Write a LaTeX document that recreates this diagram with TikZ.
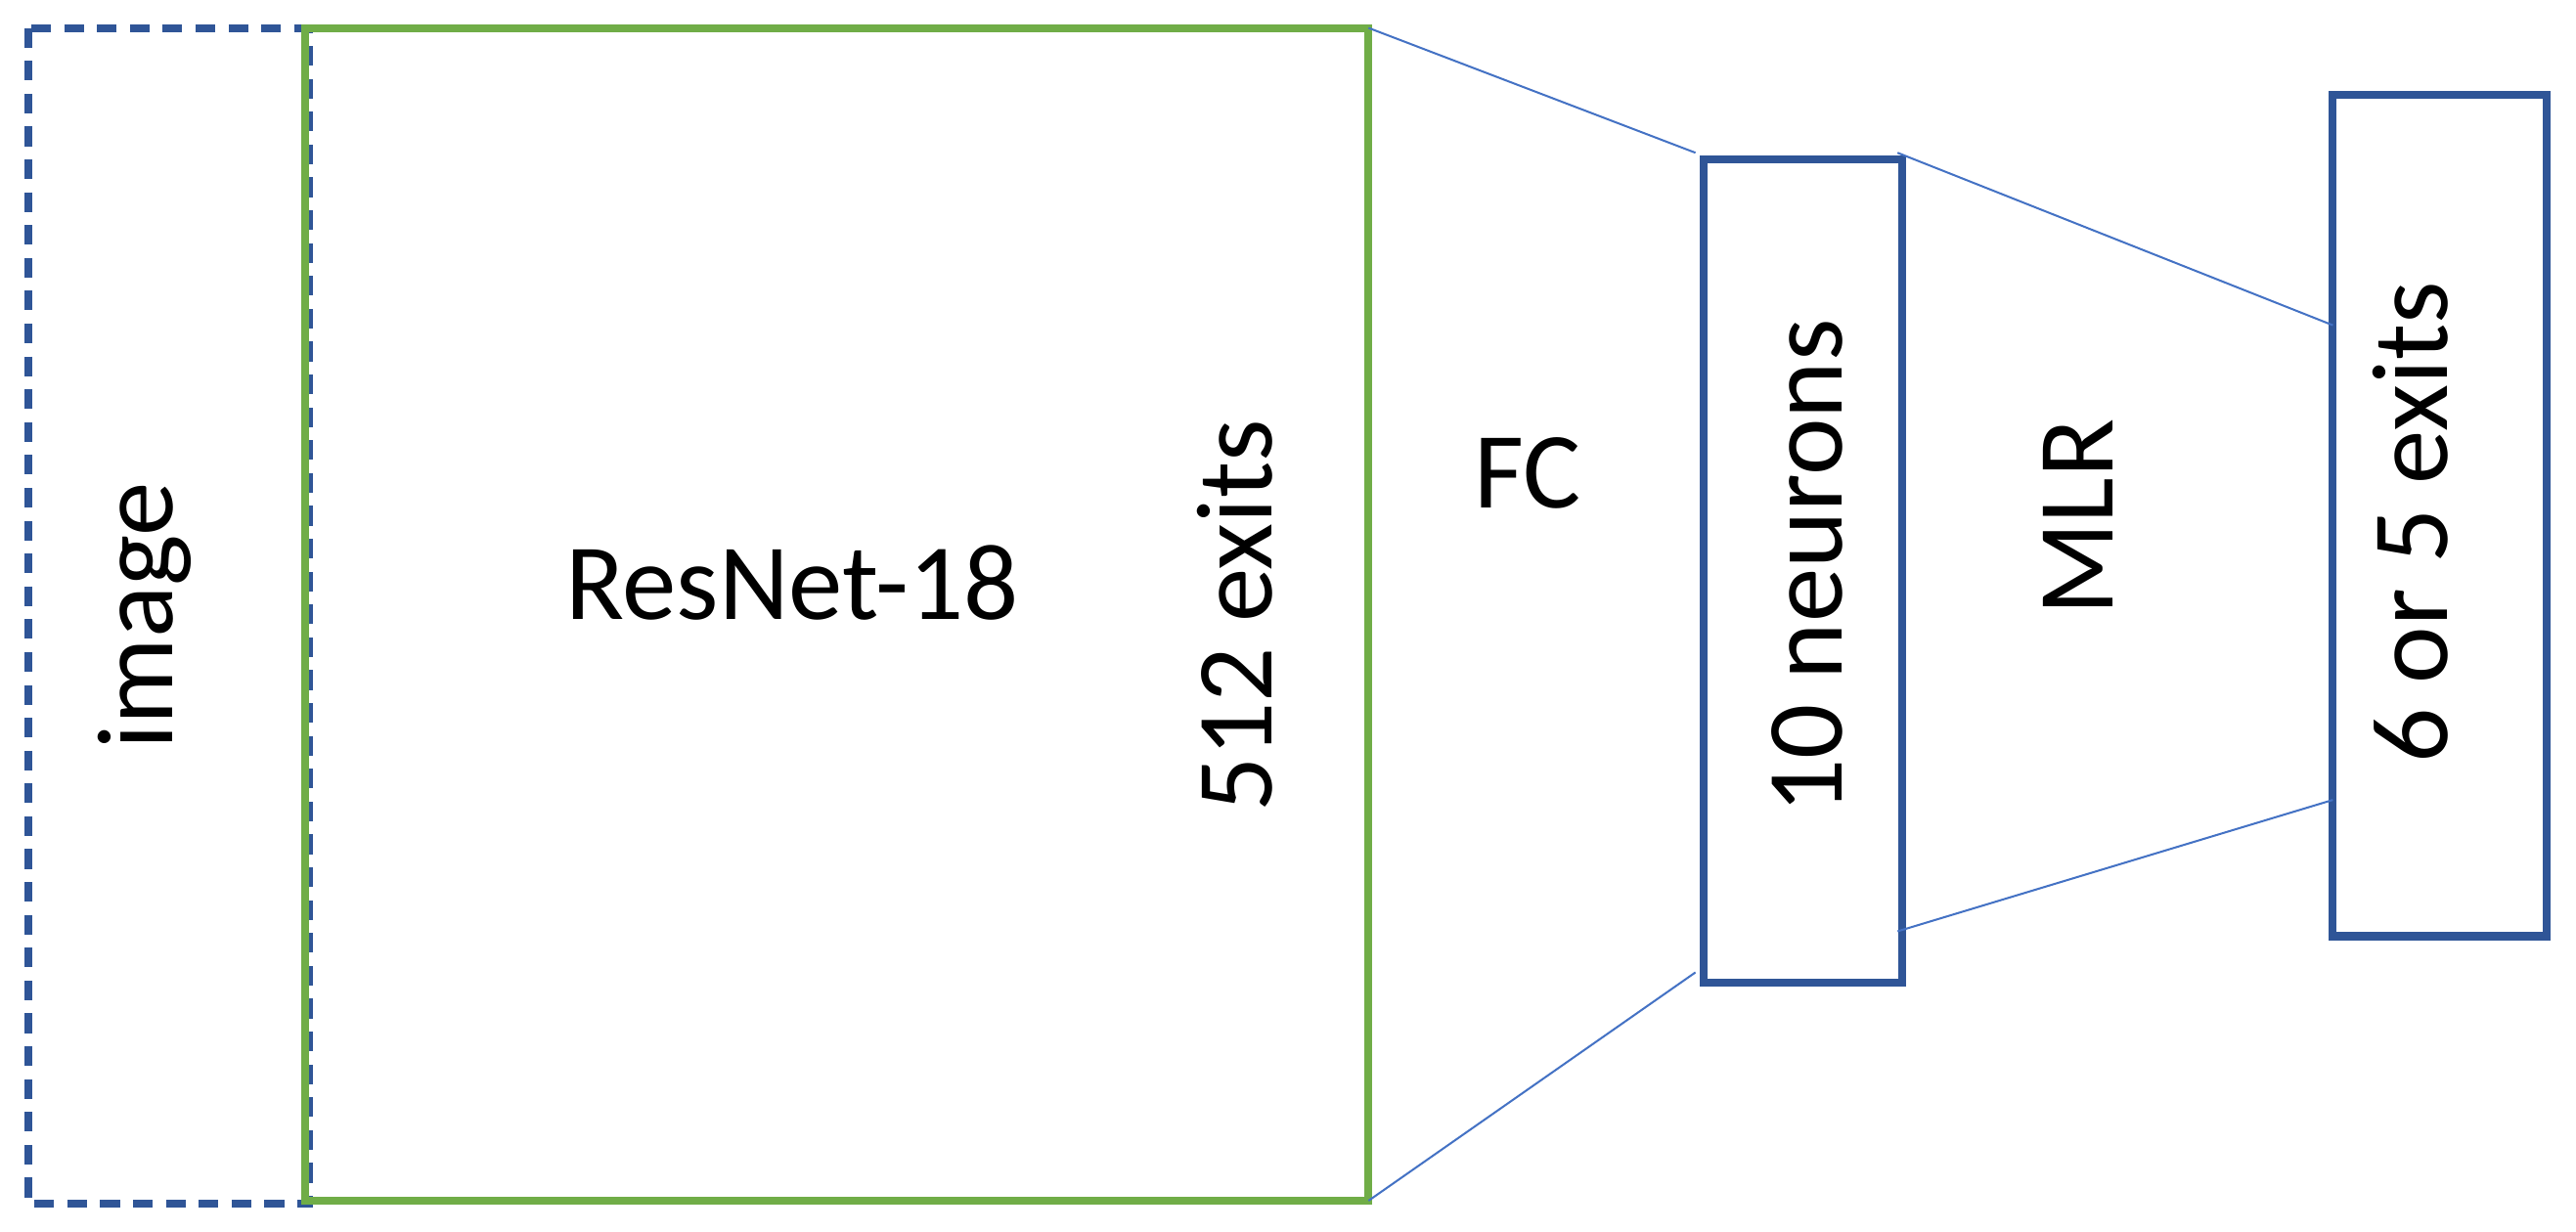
\documentclass[tikz,border=0pt]{standalone}
\usepackage{fontspec}
\setmainfont{Carlito}
\definecolor{dblue}{HTML}{2F5597}
\definecolor{lgreen}{HTML}{70AD47}
\definecolor{lblue}{HTML}{4472C4}
\begin{document}
\begin{tikzpicture}[x=0.5pt,y=-0.5pt,
  box/.style={draw=dblue,line width=2.4pt},
  thin/.style={draw=lblue,line width=0.6pt},
  lab/.style={font=\fontsize{33}{38}\selectfont}]
\useasboundingbox (0,0) rectangle (1568,750);
\draw[box,dash pattern=on 6pt off 4pt] (17,17) rectangle (188,733);
\draw[draw=lgreen,line width=2.4pt] (186,17) rectangle (833,731);
\node[box,minimum width=60.5pt,minimum height=250.5pt,inner sep=0] (n10) at (1097.5,347.5) {};
\node[box,minimum width=65pt,minimum height=256pt,inner sep=0] (n6) at (1485,314) {};
\coordinate (g1) at (833,17); \coordinate (g2) at (833,731);
\coordinate (a1) at (1032,93); \coordinate (a2) at (1032,592);
\coordinate (b1) at (1155,93); \coordinate (b2) at (1155,567);
\coordinate (c1) at (1420,198); \coordinate (c2) at (1420,487);
\draw[thin] (g1) -- (a1); \draw[thin] (g2) -- (a2);
\draw[thin] (b1) -- (c1); \draw[thin] (b2) -- (c2);
\node[lab,rotate=90] (ti) at (88,375) {image};
\node[lab] (tr) at (482,355) {ResNet-18};
\node[lab,rotate=90] (te) at (752,375) {512 exits};
\node[lab] (tf) at (930,288) {FC};
\node[lab,rotate=90] (tn) at (1100,345) {10 neurons};
\node[lab,rotate=90] (tm) at (1265,315) {MLR};
\node[lab,rotate=90] (tx) at (1467,318) {6 or 5 exits};
\end{tikzpicture}
\end{document}
